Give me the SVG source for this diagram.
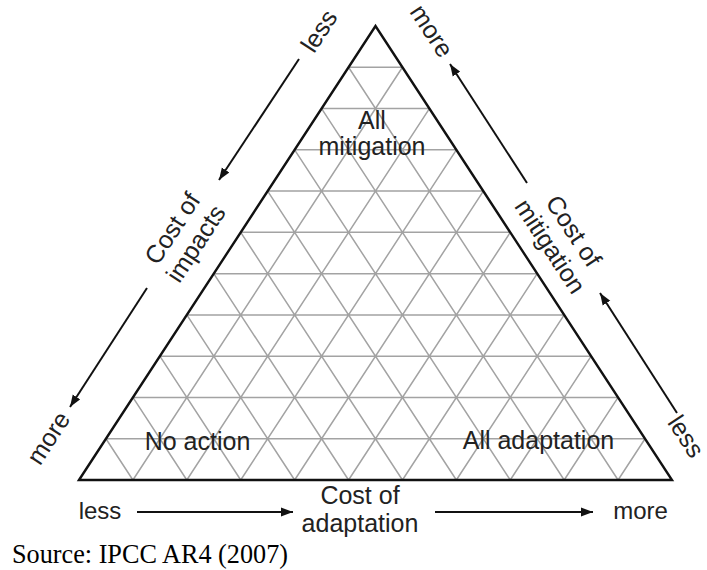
<svg xmlns="http://www.w3.org/2000/svg" width="707" height="570" viewBox="0 0 707 570">
<defs>
<marker id="ah" viewBox="0 0 12 10" refX="12" refY="5" markerWidth="12" markerHeight="10" markerUnits="userSpaceOnUse" orient="auto"><path d="M0,0.5 L12,5 L0,9.5 z" fill="#111"/></marker>
</defs>
<style>
.grid{stroke:#a3a3a3;stroke-width:1.5;fill:none}
.edge{stroke:#111;stroke-width:2.4;fill:none;stroke-linejoin:miter}
.lbl{font-family:"Liberation Sans",Arial,sans-serif;font-size:25px;fill:#222;text-anchor:middle}
.sm{font-size:24px}
.arr{stroke:#111;stroke-width:2;fill:none;marker-end:url(#ah)}
.src{font-family:"Liberation Serif","Times New Roman",serif;font-size:27px;fill:#000}
</style>
<rect width="707" height="570" fill="#fff"/>
<g id="triangle">
<path class="grid" d="M105.95,438.73H645.05 M132.91,397.45H618.09 M159.86,356.18H591.14 M186.82,314.91H564.18 M213.77,273.64H537.23 M240.73,232.36H510.27 M267.68,191.09H483.32 M294.64,149.82H456.36 M321.59,108.55H429.41 M348.55,67.27H402.45
M132.91,480L402.45,67.27 M186.82,480L429.41,108.55 M240.73,480L456.36,149.82 M294.64,480L483.32,191.09 M348.55,480L510.27,232.36 M402.45,480L537.23,273.64 M456.36,480L564.18,314.91 M510.27,480L591.14,356.18 M564.18,480L618.09,397.45 M618.09,480L645.05,438.73
M132.91,480L105.95,438.73 M186.82,480L132.91,397.45 M240.73,480L159.86,356.18 M294.64,480L186.82,314.91 M348.55,480L213.77,273.64 M402.45,480L240.73,232.36 M456.36,480L267.68,191.09 M510.27,480L294.64,149.82 M564.18,480L321.59,108.55 M618.09,480L348.55,67.27"/>
<path class="edge" d="M79,480 L375.5,26 L672,480 Z"/>
</g>
<g id="all-mitigation"><text class="lbl" x="372" y="129">All</text><text class="lbl" x="372" y="155">mitigation</text></g>
<g id="no-action"><text class="lbl" x="197.5" y="450">No action</text></g>
<g id="all-adaptation"><text class="lbl" x="538.5" y="449">All adaptation</text></g>
<g id="impacts-axis">
<text class="lbl" transform="translate(326.2,35.7) rotate(-56.8)">less</text>
<g transform="translate(179.5,233) rotate(-56.8)"><text class="lbl" x="0" y="0">Cost of</text><text class="lbl" x="0" y="28">impacts</text></g>
<text class="lbl" transform="translate(55.5,442.6) rotate(-56.8)">more</text>
</g>
<g id="mitigation-axis">
<text class="lbl" transform="translate(424.6,35.6) rotate(56.8)">more</text>
<g transform="translate(566.5,235.6) rotate(56.8)"><text class="lbl" x="0" y="0">Cost of</text><text class="lbl" x="0" y="28">mitigation</text></g>
<text class="lbl" transform="translate(679,441) rotate(56.8)">less</text>
</g>
<g id="adaptation-axis">
<text class="lbl sm" x="100" y="519">less</text>
<text class="lbl" x="360" y="504">Cost of</text>
<text class="lbl" x="360" y="532">adaptation</text>
<text class="lbl sm" x="640.5" y="519">more</text>
</g>
<g id="connectors">
<path class="arr" d="M299,59 L219,180"/>
<path class="arr" d="M147,288 L70,407"/>
<path class="arr" d="M527,183 L450,64"/>
<path class="arr" d="M677,413 L600,293"/>
<path class="arr" d="M137,512 L293,512"/>
<path class="arr" d="M435,512 L593,512"/>
</g>
<g id="source"><text class="src" x="12" y="563" textLength="276" lengthAdjust="spacingAndGlyphs">Source: IPCC AR4 (2007)</text></g>
</svg>
